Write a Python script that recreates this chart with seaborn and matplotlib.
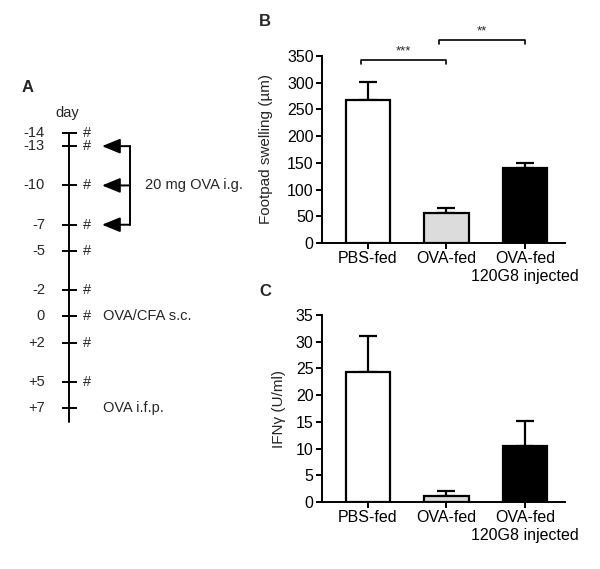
import matplotlib
matplotlib.use("Agg")
import matplotlib.pyplot as plt
import seaborn as sns

# data
groups = ["PBS-fed", "OVA-fed", "OVA-fed\n120G8 injected"]
bar_colors = ["white", "#dcdcdc", "black"]
swelling_mean = [268, 57, 141]
swelling_err = [34, 8, 9]
ifng_mean = [24.3, 1.2, 10.5]
ifng_err = [6.8, 0.8, 4.7]
comparisons = [(0, 1, "***"), (1, 2, "**")]

days = [-14, -13, -10, -7, -5, -2, 0, 2, 5, 7]
day_labels = ["-14", "-13", "-10", "-7", "-5", "-2", "0", "+2", "+5", "+7"]
hash_days = [-14, -13, -10, -7, -5, -2, 0, 2, 5]
feed_days = [-13, -10, -7]
events = {0: "OVA/CFA s.c.", 7: "OVA i.f.p."}

sns.set_style("ticks")
plt.rcParams["font.family"] = ["Liberation Sans", "DejaVu Sans"]
plt.rcParams["axes.linewidth"] = 1.4
plt.rcParams["xtick.major.width"] = 1.4
plt.rcParams["ytick.major.width"] = 1.4
plt.rcParams["xtick.major.size"] = 4
plt.rcParams["ytick.major.size"] = 4
plt.rcParams["xtick.color"] = "black"
plt.rcParams["ytick.color"] = "black"
plt.rcParams["axes.edgecolor"] = "black"

fig = plt.figure(figsize=(6, 5.69), dpi=100)
W, H = 600, 569


def bar_panel(rect, means, errs, ymax, step, ylabel, pad):
    ax = fig.add_axes(rect)
    sns.barplot(x=groups, y=means, hue=groups, palette=bar_colors, edgecolor="black",
                linewidth=1.6, width=0.57, legend=False, ax=ax, zorder=3)
    ax.errorbar(range(len(groups)), means, yerr=[[0] * len(errs), errs], fmt="none",
                ecolor="black", elinewidth=1.6, capsize=6.5, capthick=1.6, zorder=2)
    ax.set_xlim(-0.586, 2.51)
    ax.set_ylim(0, ymax)
    ax.set_yticks(range(0, ymax + 1, step))
    ax.tick_params(labelsize=11.5, pad=2)
    ax.set_ylabel(ylabel, fontsize=11, labelpad=pad)
    sns.despine(ax=ax)
    return ax


ax_b = bar_panel([322 / W, 1 - 243 / H, 243 / W, 187 / H], swelling_mean, swelling_err,
                 350, 50, "Footpad swelling (µm)", 10)
ax_c = bar_panel([322 / W, 1 - 502 / H, 243 / W, 187 / H], ifng_mean, ifng_err,
                 35, 5, "IFNγ (U/ml)", 7)

# significance brackets in panel B
levels = [343, 380]
for (i, j, stars), y in zip(comparisons, levels):
    x0, x1 = i - 0.09, j + 0.0
    ax_b.plot([x0, x0, x1, x1], [y - 8, y, y, y - 8], color="black", lw=1.2,
              clip_on=False, solid_joinstyle="round")
    ax_b.text((x0 + x1) / 2, y + 4, stars, ha="center", va="bottom", fontsize=9.5)

# panel A: timeline
ax_a = fig.add_axes([0, 0, 220 / W, 1])
ax_a.set_xlim(0, 220)
ax_a.set_ylim(19.29, -24.16)
ax_a.axis("off")
ax_a.plot([69, 69], [days[0], 8.1], color="black", lw=1.4)
ax_a.hlines(days, 62, 77, color="black", lw=1.4)
for d, lab in zip(days, day_labels):
    ax_a.text(45, d, lab, ha="right", va="center", fontsize=10.5)
for d in hash_days:
    ax_a.text(87, d, "#", ha="center", va="center", fontsize=10.5)
ax_a.text(67, -15.5, "day", ha="center", va="center", fontsize=10.5)
for d in feed_days:
    ax_a.annotate("", xy=(102, d), xytext=(130, d),
                  arrowprops=dict(arrowstyle="-|>,head_length=1.1,head_width=0.45",
                                  color="black", lw=1.4, shrinkA=0, shrinkB=0))
ax_a.plot([130, 130], [feed_days[0], feed_days[-1]], color="black", lw=1.4)
ax_a.text(145, feed_days[1], "20 mg OVA i.g.", ha="left", va="center", fontsize=10.5)
for d, txt in events.items():
    ax_a.text(103, d, txt, ha="left", va="center", fontsize=10.5)

# panel letters
fig.text(22 / W, 1 - 88 / H, "A", fontsize=12, fontweight="bold", va="center")
fig.text(259 / W, 1 - 22 / H, "B", fontsize=12, fontweight="bold", va="center")
fig.text(259 / W, 1 - 292 / H, "C", fontsize=12, fontweight="bold", va="center")

fig.savefig("out.png", dpi=100, facecolor="white")
